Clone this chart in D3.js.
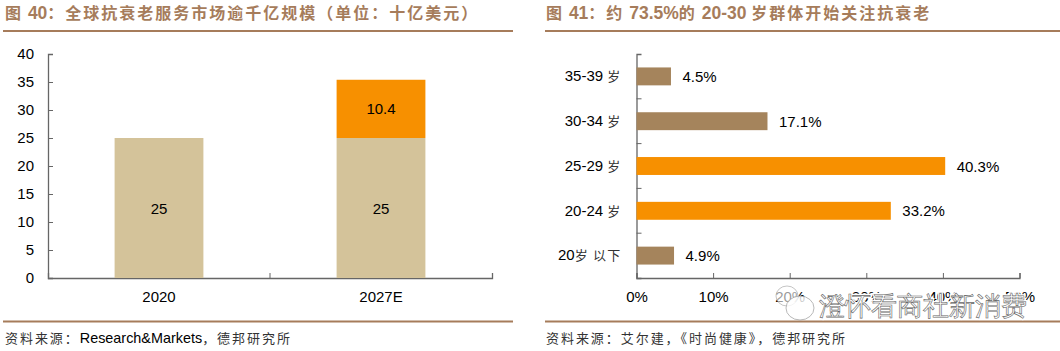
<!DOCTYPE html>
<html>
<head>
<meta charset="utf-8">
<script src="https://cdnjs.cloudflare.com/ajax/libs/d3/7.8.5/d3.min.js"></script>
<style>
html, body { margin: 0; padding: 0; background: #fff; }
svg { display: block; }
text { font-family: "Liberation Sans", Arial, sans-serif; fill: #000; white-space: pre; }
</style>
</head>
<body>
<svg id="chart" width="1060" height="351"></svg>
<script>
const years = ['2020', '2027E'];
const baseValues = [25, 25];
const extraValues = [0, 10.4];
const yTicks = [0, 5, 10, 15, 20, 25, 30, 35, 40];

const ages = ['35-39 岁', '30-34 岁', '25-29 岁', '20-24 岁', '20岁 以下'];
const shares = [4.5, 17.1, 40.3, 33.2, 4.9];
const highlight = [false, false, true, true, false];
const xTicks = [0, 10, 20, 30, 40, 50];

const brown = '#a67c5b';
const barBrown = '#a5845c';
const orange = '#f79000';
const tan = '#d4c39a';
const axisColor = '#666';
const svg = d3.select('#chart');

// latin runs stay Arial-like, CJK runs get their own size and spacing
const mixed = (sel, str, o) => {
  sel.text(null);
  (str.match(/[\x00-\x7f]+|[^\x00-\x7f]+/g) || []).forEach(run => {
    const latin = /^[\x00-\x7f]/.test(run);
    const t = sel.append('tspan').text(run)
      .attr('font-size', latin ? o.latin : o.cjk)
      .style('fill', latin ? o.latinColor : o.cjkColor);
    if (!latin) {
      t.attr('font-family', '"Noto Sans CJK SC"').attr('letter-spacing', o.spacing);
    }
  });
};

const titleStyle = { latin: 17.5, cjk: 16, spacing: 2, latinColor: brown, cjkColor: brown };
const sourceStyle = { latin: 14.4, cjk: 13, spacing: 1.95, latinColor: '#000', cjkColor: '#333' };

svg.append('text').attr('x', 5).attr('y', 19).attr('font-weight', 'bold')
  .call(mixed, '图 40：全球抗衰老服务市场逾千亿规模（单位：十亿美元）', titleStyle);
svg.append('text').attr('x', 546).attr('y', 19).attr('font-weight', 'bold')
  .call(mixed, '图 41：约 73.5%的 20-30 岁群体开始关注抗衰老', titleStyle);

[[3, 513], [545, 1060]].forEach(r => {
  [31, 321.5].forEach(yy => {
    svg.append('line').attr('x1', r[0]).attr('x2', r[1]).attr('y1', yy).attr('y2', yy)
      .attr('stroke', brown).attr('stroke-width', 2);
  });
});

svg.append('text').attr('x', 5).attr('y', 343)
  .call(mixed, '资料来源：Research&Markets，德邦研究所', sourceStyle);
svg.append('text').attr('x', 546).attr('y', 343)
  .call(mixed, '资料来源：艾尔建，《时尚健康》，德邦研究所', sourceStyle);

const styleAxis = g => {
  g.selectAll('text').attr('font-size', 15).attr('font-family', null);
  g.selectAll('path').attr('stroke', axisColor).attr('stroke-width', 1.3);
  g.selectAll('line').attr('stroke', axisColor);
};

// left chart
const y = d3.scaleLinear().domain([0, 40]).range([278, 54]);
const x0 = d3.scaleBand().domain(years).range([48, 492]).paddingInner(0.6).paddingOuter(0.3);

svg.append('g').attr('transform', 'translate(48,0)')
  .call(d3.axisLeft(y).tickValues(yTicks).tickSize(-5).tickPadding(14))
  .call(styleAxis);

const gx = svg.append('g').attr('transform', 'translate(0,278)')
  .call(d3.axisBottom(x0).tickSize(0).tickSizeOuter(-5).tickPadding(13))
  .call(styleAxis);
gx.selectAll('.between').data(d3.range(1, years.length)).join('line')
  .attr('class', 'between')
  .attr('x1', i => x0.range()[0] + i * x0.step()).attr('x2', i => x0.range()[0] + i * x0.step())
  .attr('y1', 0).attr('y2', -5).attr('stroke', axisColor);

const bars = svg.append('g');
bars.selectAll('.base').data(years).join('rect').attr('class', 'base')
  .attr('x', d => x0(d)).attr('width', x0.bandwidth())
  .attr('y', (d, i) => y(baseValues[i]))
  .attr('height', (d, i) => y(0) - y(baseValues[i]))
  .attr('fill', tan);
bars.selectAll('.extra').data(years).join('rect').attr('class', 'extra')
  .attr('x', d => x0(d)).attr('width', x0.bandwidth())
  .attr('y', (d, i) => y(baseValues[i] + extraValues[i]))
  .attr('height', (d, i) => y(baseValues[i]) - y(baseValues[i] + extraValues[i]))
  .attr('fill', orange);

svg.append('g').selectAll('text').data(years).join('text')
  .attr('x', d => x0(d) + x0.bandwidth() / 2)
  .attr('y', (d, i) => y(baseValues[i] / 2) + 5.5)
  .attr('text-anchor', 'middle').attr('font-size', 15)
  .text((d, i) => baseValues[i]);
svg.append('g').selectAll('text').data(years.filter((d, i) => extraValues[i] > 0)).join('text')
  .attr('x', d => x0(d) + x0.bandwidth() / 2)
  .attr('y', d => { const i = years.indexOf(d); return y(baseValues[i] + extraValues[i] / 2) + 5.5; })
  .attr('text-anchor', 'middle').attr('font-size', 15)
  .text(d => extraValues[years.indexOf(d)]);

// right chart
const xs = d3.scaleLinear().domain([0, 50]).range([636.5, 1019.5]);
const ys = d3.scaleBand().domain(ages).range([54, 278]).paddingInner(0.6).paddingOuter(0.3);

svg.append('g').attr('transform', 'translate(0,278)')
  .call(d3.axisBottom(xs).tickValues(xTicks).tickFormat(d => d + '%').tickSize(-5).tickPadding(13))
  .call(styleAxis);

const gl = svg.append('g').attr('transform', 'translate(636.5,0)')
  .call(d3.axisLeft(ys).tickSize(0).tickSizeOuter(-5).tickPadding(15))
  .call(styleAxis);
gl.selectAll('.tick text').each(function (d) {
  d3.select(this).call(mixed, d, { latin: 15, cjk: 13, spacing: 1.2, latinColor: '#000', cjkColor: '#333' });
});
gl.selectAll('.between').data(d3.range(1, ages.length)).join('line')
  .attr('class', 'between')
  .attr('y1', i => ys.range()[0] + i * ys.step()).attr('y2', i => ys.range()[0] + i * ys.step())
  .attr('x1', 0).attr('x2', 5).attr('stroke', axisColor);

svg.append('g').selectAll('rect').data(ages).join('rect')
  .attr('x', xs(0)).attr('y', d => ys(d))
  .attr('width', (d, i) => xs(shares[i]) - xs(0))
  .attr('height', ys.bandwidth())
  .attr('fill', (d, i) => highlight[i] ? orange : barBrown);
svg.append('g').selectAll('text').data(ages).join('text')
  .attr('x', (d, i) => xs(shares[i]) + 11.5)
  .attr('y', d => ys(d) + ys.bandwidth() / 2 + 5.5)
  .attr('font-size', 15)
  .text((d, i) => shares[i].toFixed(1) + '%');

// watermark sits over the tick labels, as in the source image
const wm = svg.append('g');
wm.append('ellipse').attr('cx', 787).attr('cy', 296).attr('rx', 11).attr('ry', 10)
  .attr('fill', 'rgba(255,255,255,0.6)').attr('stroke', '#aaa').attr('stroke-width', 0.7);
wm.append('ellipse').attr('cx', 800).attr('cy', 308).attr('rx', 14).attr('ry', 12)
  .attr('fill', 'rgba(255,255,255,0.8)').attr('stroke', '#999').attr('stroke-width', 0.7);
wm.append('text').attr('x', 819).attr('y', 315).attr('font-size', 26)
  .attr('font-family', '"Noto Sans CJK SC"')
  .style('fill', '#fff').attr('stroke', '#fff').attr('stroke-width', 3)
  .text('澄怀看商社新消费');
wm.append('text').attr('x', 819).attr('y', 315).attr('font-size', 26)
  .attr('font-family', '"Noto Sans CJK SC"')
  .style('fill', '#fff').attr('stroke', '#666').attr('stroke-width', 0.6)
  .text('澄怀看商社新消费');
</script>
</body>
</html>
